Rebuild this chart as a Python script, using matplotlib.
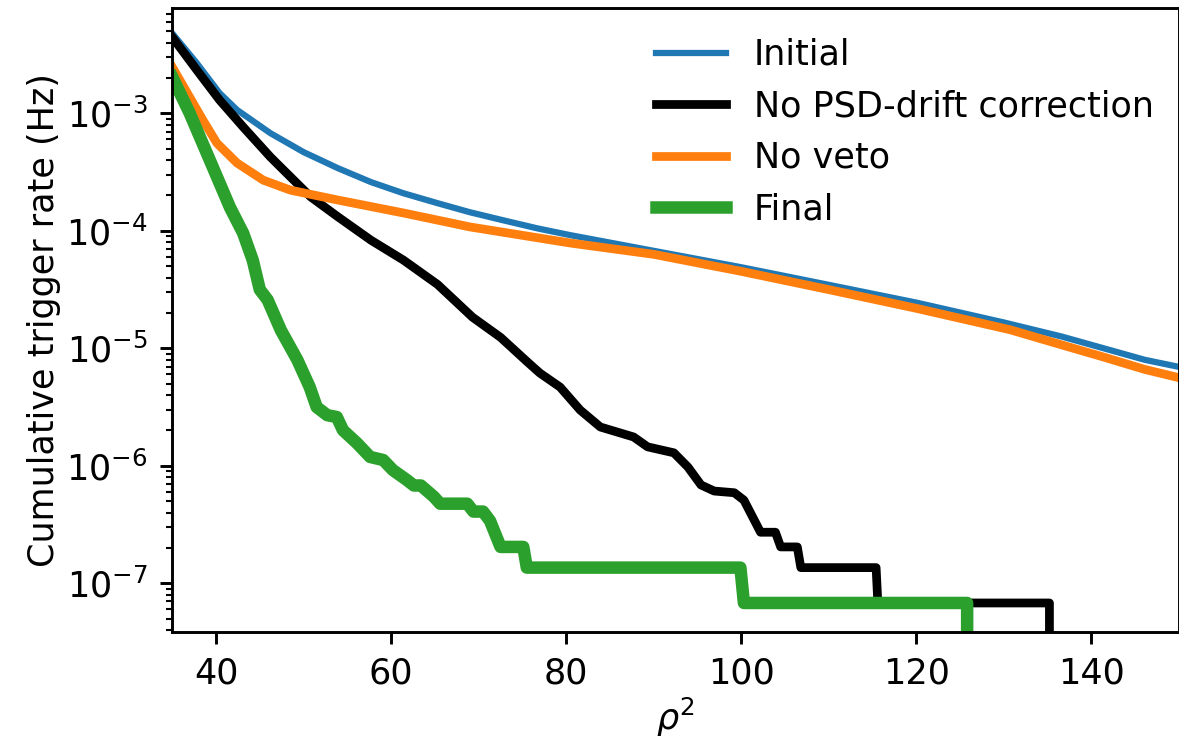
import matplotlib
matplotlib.use("Agg")
import matplotlib.pyplot as plt

# Cumulative trigger rate vs rho^2
labels = ["Initial", "No PSD-drift correction", "No veto", "Final"]
colors = ["#1f77b4", "black", "#ff7f0e", "#2ca02c"]

x_initial = [35, 37.8, 40.4, 42.4, 46.2, 50, 53.9, 57.7, 61.4, 65.3, 69, 72.8,
             76.7, 80.5, 90, 100, 110, 120, 130, 136.6, 141.2, 146.1, 150]
y_initial = [4.8e-3, 2.68e-3, 1.49e-3, 1.07e-3, 6.79e-4, 4.68e-4, 3.42e-4, 2.6e-4,
             2.09e-4, 1.72e-4, 1.44e-4, 1.23e-4, 1.05e-4, 9.18e-5, 6.76e-5, 4.9e-5,
             3.47e-5, 2.45e-5, 1.66e-5, 1.26e-5, 1.01e-5, 7.98e-6, 6.95e-6]

x_nopsd = [35, 37.8, 40.4, 43.1, 46.2, 48.5, 50.8, 53.9, 57.7, 61.4, 65.3, 69.3,
           72.5, 75.6, 77.0, 79.3, 81.6, 83.9, 87.7, 89.3, 92.3, 93.9, 95.4, 96.9,
           99.2, 100.3, 102.2, 103.9, 104.5, 106.4, 106.8, 115.4, 115.6, 135.2, 135.2]
y_nopsd = [4.46e-3, 2.34e-3, 1.3e-3, 7.66e-4, 4.26e-4, 2.88e-4, 1.95e-4, 1.32e-4,
           8.32e-5, 5.64e-5, 3.5e-5, 1.84e-5, 1.24e-5, 7.62e-6, 6.15e-6, 4.68e-6,
           2.98e-6, 2.14e-6, 1.76e-6, 1.45e-6, 1.29e-6, 9.77e-7, 6.87e-7, 6.1e-7,
           5.9e-7, 5.1e-7, 2.72e-7, 2.72e-7, 2.04e-7, 2.04e-7, 1.36e-7, 1.36e-7,
           6.8e-8, 6.8e-8, 1e-9]

x_noveto = [35, 37, 38.5, 40.1, 42.4, 45.4, 48.5, 53.9, 61.4, 69, 80.5, 90, 100,
            110, 120, 130.7, 136.6, 141.2, 146.1, 150]
y_noveto = [2.48e-3, 1.37e-3, 8.77e-4, 5.58e-4, 3.78e-4, 2.7e-4, 2.22e-4, 1.83e-4,
            1.42e-4, 1.08e-4, 7.87e-5, 6.31e-5, 4.52e-5, 3.16e-5, 2.19e-5, 1.44e-5,
            1.07e-5, 8.51e-6, 6.61e-6, 5.62e-6]

x_final = [35, 37, 39.3, 41.6, 43.1, 44.2, 45.0, 45.9, 47.4, 49.3, 50.7, 51.5,
           52.7, 53.8, 54.5, 56.1, 57.6, 59.1, 60.2, 61.8, 62.6, 63.4, 64.9, 65.6,
           68.7, 69.4, 70.5, 71.3, 72.5, 75.1, 75.5, 99.9, 100.3, 125.8, 125.8]
y_final = [2.04e-3, 1.0e-3, 3.98e-4, 1.58e-4, 9.55e-5, 5.62e-5, 3.16e-5, 2.58e-5,
           1.43e-5, 7.94e-6, 4.68e-6, 3.16e-6, 2.7e-6, 2.6e-6, 2.01e-6, 1.56e-6,
           1.19e-6, 1.12e-6, 9.2e-7, 7.57e-7, 6.8e-7, 6.8e-7, 5.44e-7, 4.76e-7,
           4.76e-7, 4.08e-7, 4.08e-7, 3.4e-7, 2.04e-7, 2.04e-7, 1.36e-7, 1.36e-7,
           6.8e-8, 6.8e-8, 1e-9]

series = [(x_initial, y_initial, 4.5), (x_nopsd, y_nopsd, 6.3),
          (x_noveto, y_noveto, 6.3), (x_final, y_final, 9.0)]

plt.rcParams['font.size'] = 25.2
plt.rcParams['axes.linewidth'] = 2.1

fig = plt.figure(figsize=(11.79, 7.47), dpi=100)
ax = fig.add_axes([0.1461, 0.1543, 0.8539, 0.8346])

for (xs, ys, lw), lab, col in zip(series, labels, colors):
    ax.plot(xs, ys, color=col, linewidth=lw, label=lab)

ax.set_yscale('log')
ax.set_xlim(35, 150)
ax.set_ylim(3.87e-8, 7.84e-3)
ax.set_xticks([40, 60, 80, 100, 120, 140])
ax.tick_params(which='major', length=8.6, width=2.1, pad=9)
ax.tick_params(which='minor', length=4.3, width=1.5)
ax.set_xlabel(r'$\rho^2$')
ax.set_ylabel('Cumulative trigger rate (Hz)')
ax.legend(loc='upper right', bbox_to_anchor=(1.006, 1.003), frameon=False)

fig.savefig('out.png', dpi=100)
